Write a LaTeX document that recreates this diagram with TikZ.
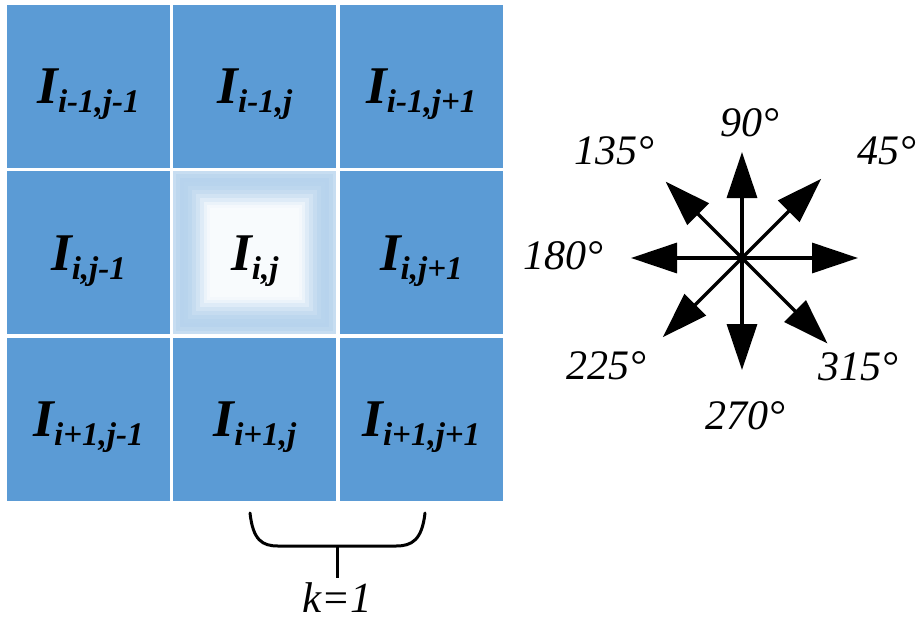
\documentclass[tikz,border=0pt]{standalone}
\usepackage{fontspec}
\setmainfont{Liberation Serif}
\usetikzlibrary{arrows.meta,positioning}
\definecolor{cellblue}{RGB}{91,155,213}
\newcommand{\pixlbl}[1]{{\fontsize{53}{53}\selectfont I}\raisebox{-9pt}[0pt][0pt]{\fontsize{33}{33}\selectfont #1}}

\begin{document}
\begin{tikzpicture}[
  x=1pt, y=-1pt,
  node distance=3pt,
  cell/.style={rectangle, fill=cellblue, minimum size=163pt, inner sep=0pt,
               font=\bfseries\itshape},
  glow/.style={cell, fill=cellblue!34, path picture={
      \foreach \k/\m in {3/40,7/44,11/43,15/40,19/35,23/28,27/20,31/12,34/7,37/4}{
        \fill[cellblue!\m]
          ([shift={(\k pt,-\k pt)}]path picture bounding box.north west) rectangle
          ([shift={(-\k pt,\k pt)}]path picture bounding box.south east);}}},
  vec/.style={line width=3.3pt, -{Triangle[length=46pt, width=30pt]}},
  deg/.style={font=\fontsize{42}{42}\selectfont\itshape, inner sep=0pt},
  brace/.style={line width=3pt, line cap=round}
]
  \useasboundingbox (0,0) rectangle (923,624);

  % 3x3 neighbourhood
  \node[cell]                (p11) at (88.5,86.5) {\pixlbl{i-1,j-1}};
  \node[cell, right=of p11]  (p12) {\pixlbl{i-1,j}};
  \node[cell, right=of p12]  (p13) {\pixlbl{i-1,j+1}};
  \node[cell, below=of p11]  (p21) {\pixlbl{i,j-1}};
  \node[glow, right=of p21]  (p22) {\pixlbl{i,j}};
  \node[cell, right=of p22]  (p23) {\pixlbl{i,j+1}};
  \node[cell, below=of p21]  (p31) {\pixlbl{i+1,j-1}};
  \node[cell, right=of p31]  (p32) {\pixlbl{i+1,j}};
  \node[cell, right=of p32]  (p33) {\pixlbl{i+1,j+1}};

  % brace for k
  \coordinate (bl)   at (250,513);
  \coordinate (br)   at (425,513);
  \coordinate (bmid) at (337,546);
  \coordinate (stem) at (337,578);
  \draw[brace] (bl) .. controls (253,540) and (262,546) .. (278,546)
               -- (396,546) .. controls (412,546) and (422,540) .. (br);
  \draw[brace, line cap=butt] (bmid) -- (stem);
  \node[below=4pt of stem, font=\fontsize{43}{43}\selectfont\itshape,
        inner sep=0pt] (k) {k=1};

  % direction arrows
  \coordinate (o) at (742,258);
  \foreach \a/\r in {0/116,45/112,90/106,135/108,180/111,225/112,270/112,315/121}{
    \path (o) ++(\a:\r pt) coordinate (t\a);
    \draw[vec] (o) -- (t\a);
  }
  \node[deg] (l90)  at (750,123) {90°};
  \node[deg] (l45)  at (887,151) {45°};
  \node[deg] (l135) at (614,151) {135°};
  \node[deg] (l180) at (563,256) {180°};
  \node[deg] (l225) at (606,366) {225°};
  \node[deg] (l315) at (858,367) {315°};
  \node[deg] (l270) at (745,416) {270°};
\end{tikzpicture}
\end{document}
